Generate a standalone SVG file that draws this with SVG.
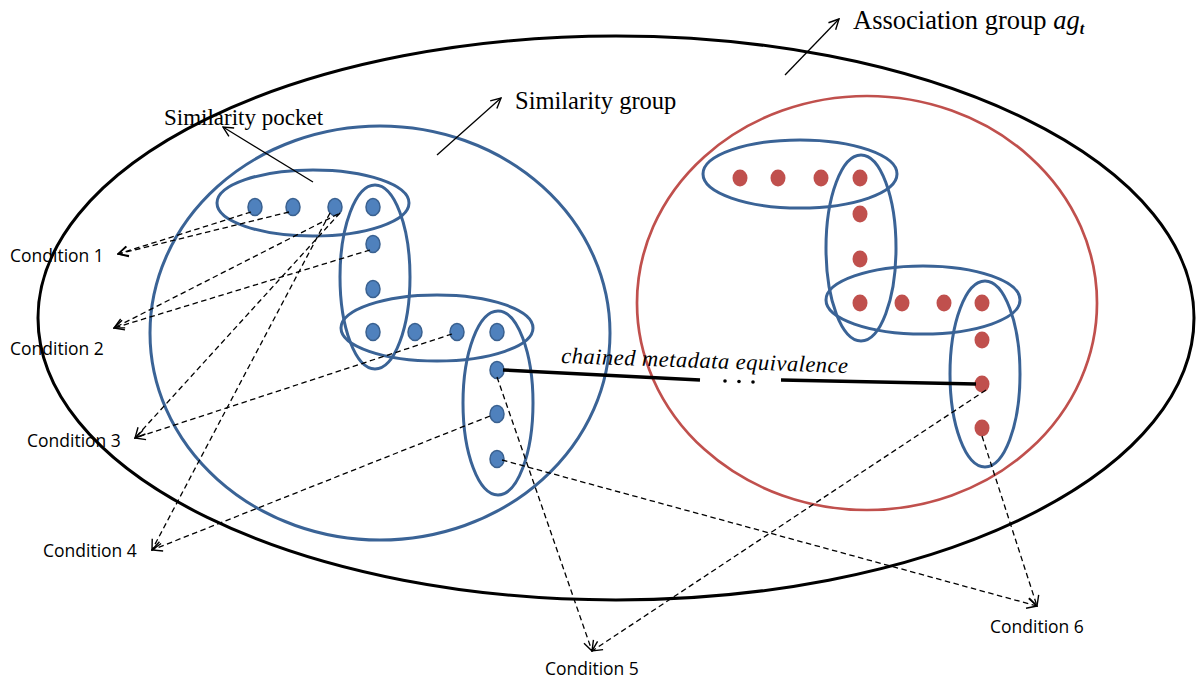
<svg xmlns="http://www.w3.org/2000/svg" width="1197" height="681" viewBox="0 0 1197 681">
  <defs>
    <style>
      .assoc { fill: none; stroke: #000; stroke-width: 3; }
      .simgroup-blue { fill: none; stroke: #3A6396; stroke-width: 3; }
      .simgroup-red { fill: none; stroke: #C0504D; stroke-width: 2.7; }
      .pocket { fill: none; stroke: #3A6396; stroke-width: 3; }
      .dot-blue { fill: #4F81BD; stroke: #3A6190; stroke-width: 1.5; }
      .dot-red { fill: #C0504D; }
      .dash { fill: none; stroke: #000; stroke-width: 1.3; stroke-dasharray: 5.5 3.5; marker-end: url(#openArrow); }
      .pointer { fill: none; stroke: #000; stroke-width: 1.3; marker-end: url(#openArrow); }
      .chain { fill: none; stroke: #000; stroke-width: 3.5; }
      .serif { font-family: "Liberation Serif", "Times New Roman", serif; fill: #000; }
      .cond { font-family: "Open Sans", "Liberation Sans", sans-serif; font-size: 17.5px; fill: #000; }
    </style>
    <marker id="openArrow" viewBox="0 0 12 12" refX="11" refY="6" markerWidth="12" markerHeight="12" markerUnits="userSpaceOnUse" orient="auto">
      <path d="M1,1 L11,6 L1,11" fill="none" stroke="#000" stroke-width="1.4" stroke-dasharray="none"/>
    </marker>
  </defs>

  <!-- association group boundary -->
  <g id="association-group">
    <ellipse class="assoc" cx="616" cy="318" rx="578" ry="282"/>
  </g>

  <!-- left similarity group -->
  <g id="similarity-group-left">
    <ellipse class="simgroup-blue" cx="380" cy="333" rx="230" ry="207"/>
  </g>

  <!-- right similarity group -->
  <g id="similarity-group-right">
    <ellipse class="simgroup-red" cx="867" cy="303" rx="230" ry="207"/>
  </g>

  <!-- similarity pockets, left group -->
  <g id="pockets-left">
    <ellipse class="pocket" cx="313" cy="203" rx="96" ry="33"/>
    <ellipse class="pocket" cx="375" cy="277" rx="35" ry="92"/>
    <ellipse class="pocket" cx="437" cy="328" rx="96" ry="33"/>
    <ellipse class="pocket" cx="498" cy="403" rx="35" ry="92"/>
  </g>

  <!-- similarity pockets, right group -->
  <g id="pockets-right">
    <ellipse class="pocket" cx="800" cy="174" rx="97" ry="34"/>
    <ellipse class="pocket" cx="861" cy="248" rx="35" ry="93"/>
    <ellipse class="pocket" cx="923" cy="300" rx="97" ry="34"/>
    <ellipse class="pocket" cx="985" cy="374" rx="35" ry="93"/>
  </g>

  <!-- metadata items, left group -->
  <g id="items-left">
    <ellipse class="dot-blue" cx="255" cy="207" rx="7" ry="8.5"/>
    <ellipse class="dot-blue" cx="293" cy="207" rx="7" ry="8.5"/>
    <ellipse class="dot-blue" cx="335" cy="207" rx="7" ry="8.5"/>
    <ellipse class="dot-blue" cx="373" cy="207" rx="7" ry="8.5"/>
    <ellipse class="dot-blue" cx="373" cy="244" rx="7" ry="8.5"/>
    <ellipse class="dot-blue" cx="373" cy="289" rx="7" ry="8.5"/>
    <ellipse class="dot-blue" cx="373" cy="332" rx="7" ry="8.5"/>
    <ellipse class="dot-blue" cx="415" cy="332" rx="7" ry="8.5"/>
    <ellipse class="dot-blue" cx="457" cy="332" rx="7" ry="8.5"/>
    <ellipse class="dot-blue" cx="497" cy="332" rx="7" ry="8.5"/>
    <ellipse class="dot-blue" cx="497" cy="370" rx="7" ry="8.5"/>
    <ellipse class="dot-blue" cx="497" cy="414" rx="7" ry="8.5"/>
    <ellipse class="dot-blue" cx="497" cy="459" rx="7" ry="8.5"/>
  </g>

  <!-- metadata items, right group -->
  <g id="items-right">
    <ellipse class="dot-red" cx="740" cy="178" rx="7.5" ry="8.5"/>
    <ellipse class="dot-red" cx="778" cy="178" rx="7.5" ry="8.5"/>
    <ellipse class="dot-red" cx="821" cy="178" rx="7.5" ry="8.5"/>
    <ellipse class="dot-red" cx="860" cy="178" rx="7.5" ry="8.5"/>
    <ellipse class="dot-red" cx="860" cy="214" rx="7.5" ry="8.5"/>
    <ellipse class="dot-red" cx="860" cy="259" rx="7.5" ry="8.5"/>
    <ellipse class="dot-red" cx="860" cy="303" rx="7.5" ry="8.5"/>
    <ellipse class="dot-red" cx="902" cy="303" rx="7.5" ry="8.5"/>
    <ellipse class="dot-red" cx="944" cy="303" rx="7.5" ry="8.5"/>
    <ellipse class="dot-red" cx="982" cy="303" rx="7.5" ry="8.5"/>
    <ellipse class="dot-red" cx="982" cy="340" rx="7.5" ry="8.5"/>
    <ellipse class="dot-red" cx="982" cy="384" rx="7.5" ry="8.5"/>
    <ellipse class="dot-red" cx="982" cy="428" rx="7.5" ry="8.5"/>
  </g>

  <!-- connectors -->
  <g id="connectors">
    <!-- chained metadata equivalence -->
    <line class="chain" x1="503" y1="370" x2="700" y2="380"/>
    <circle cx="725" cy="381" r="1.8" fill="#000"/>
    <circle cx="739" cy="381.5" r="1.8" fill="#000"/>
    <circle cx="753" cy="382" r="1.8" fill="#000"/>
    <line class="chain" x1="781" y1="380" x2="976" y2="384"/>

    <!-- condition 1 -->
    <line class="dash" x1="251" y1="212" x2="118" y2="254"/>
    <line class="dash" x1="289" y1="212" x2="118" y2="254"/>
    <!-- condition 2 -->
    <line class="dash" x1="338" y1="214" x2="114" y2="328"/>
    <line class="dash" x1="370" y1="250" x2="114" y2="328"/>
    <!-- condition 3 -->
    <line class="dash" x1="340" y1="213" x2="135" y2="438"/>
    <line class="dash" x1="452" y1="334" x2="135" y2="438"/>
    <!-- condition 4 -->
    <line class="dash" x1="330" y1="213" x2="152" y2="550"/>
    <line class="dash" x1="490" y1="416" x2="152" y2="550"/>
    <!-- condition 5 -->
    <line class="dash" x1="497" y1="377" x2="592" y2="651"/>
    <line class="dash" x1="986" y1="390" x2="592" y2="651"/>
    <!-- condition 6 -->
    <line class="dash" x1="502" y1="460" x2="1037" y2="606"/>
    <line class="dash" x1="982" y1="436" x2="1037" y2="606"/>

    <!-- label pointers -->
    <line class="pointer" x1="313" y1="182" x2="223" y2="127"/>
    <line class="pointer" x1="437" y1="155" x2="501" y2="98"/>
    <line class="pointer" x1="785" y1="75" x2="839" y2="19"/>
  </g>

  <!-- labels -->
  <g id="labels">
    <text class="serif" x="853" y="29" font-size="26.5">Association group <tspan font-style="italic">ag</tspan><tspan font-style="italic" font-weight="bold" font-size="16" dy="5">t</tspan></text>
    <text class="serif" x="515" y="109" font-size="24.5">Similarity group</text>
    <text class="serif" x="164" y="125" font-size="23">Similarity pocket</text>
    <text class="serif" x="561" y="363" font-size="22.5" font-style="italic" textLength="287" lengthAdjust="spacing" transform="rotate(2 561 363)">chained metadata equivalence</text>
    <text class="cond" x="10" y="262">Condition 1</text>
    <text class="cond" x="10" y="355">Condition 2</text>
    <text class="cond" x="27" y="447">Condition 3</text>
    <text class="cond" x="43" y="557">Condition 4</text>
    <text class="cond" x="545" y="675">Condition 5</text>
    <text class="cond" x="990" y="633">Condition 6</text>
  </g>
</svg>
